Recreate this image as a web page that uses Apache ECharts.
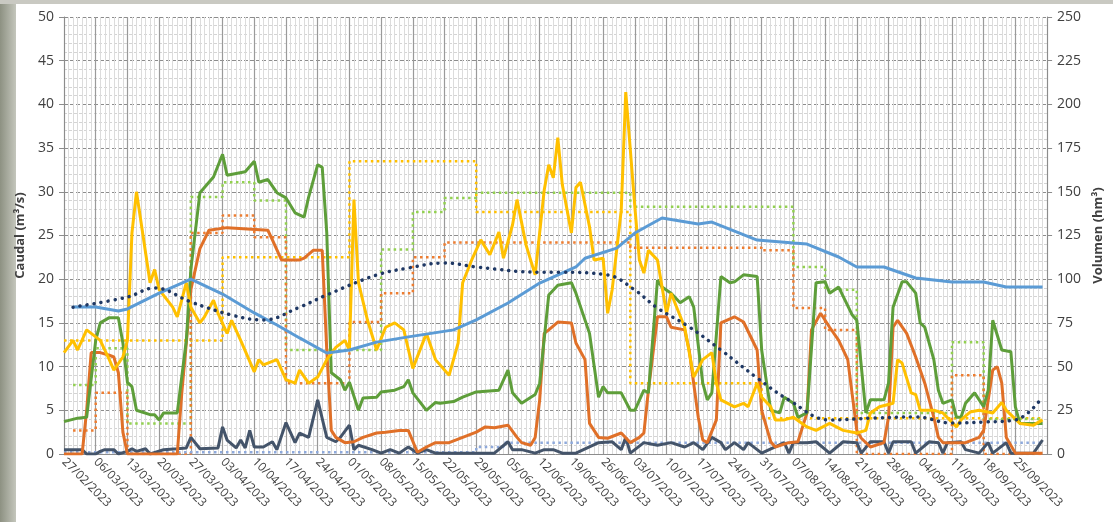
<!DOCTYPE html>
<html>
<head>
<meta charset="utf-8">
<script src="https://cdn.jsdelivr.net/npm/echarts@6/dist/echarts.min.js"></script>
<style>
html, body { margin: 0; padding: 0; background: #fff; }
#main { width: 1113px; height: 522px; }
</style>
</head>
<body>
<div id="main"></div>
<script>
// x = días desde el 27/02/2023, y = valor
var startDate = [2023, 1, 27];

var caudalAmarillo = [[0,11.6],[2,13.0],[3,11.9],[5,14.2],[6,13.8],[8,13.0],[10,10.8],[11,9.6],[13,11.1],[14,13.0],[15,25.3],[16,30.0],[19,19.6],[20,21.1],[21,18.8],[24,16.8],[25,15.7],[27,19.6],[28,16.8],[30,15.0],[31,15.7],[33,17.6],[34,16.1],[36,13.8],[37,15.3],[39,13.0],[42,9.4],[43,10.8],[44,10.2],[47,10.8],[49,8.5],[51,8.1],[52,9.6],[54,8.1],[56,8.8],[58,10.8],[60,12.2],[62,13.0],[63,11.9],[64,29.1],[65,19.6],[67,15.3],[69,11.9],[71,14.5],[73,15.0],[75,14.2],[77,9.8],[80,13.8],[82,10.8],[85,9.0],[87,12.7],[88,19.6],[90,22.2],[92,24.5],[94,22.8],[96,25.4],[97,22.4],[99,26.2],[100,29.1],[102,23.9],[104,20.5],[106,30.2],[107,33.1],[108,31.6],[109,36.2],[110,30.8],[112,25.3],[113,30.5],[114,31.1],[116,26.0],[117,22.2],[119,22.4],[120,16.1],[121,18.8],[123,27.9],[124,41.4],[126,28.3],[127,22.2],[128,20.7],[129,23.3],[131,22.2],[133,16.1],[134,18.4],[137,14.5],[139,8.8],[141,10.8],[143,11.6],[144,8.1],[145,6.2],[148,5.4],[150,5.8],[151,5.4],[153,8.1],[154,6.5],[156,5.4],[157,3.9],[159,3.9],[161,4.2],[164,3.1],[166,2.7],[169,3.5],[172,2.7],[175,2.4],[177,2.7],[178,4.7],[180,5.4],[183,5.8],[184,10.8],[185,10.4],[187,7.0],[188,6.8],[189,5.0],[192,5.0],[194,4.7],[197,3.1],[198,3.9],[200,4.8],[202,5.0],[205,4.7],[207,5.9],[208,5.0],[211,3.5],[214,3.3],[216,3.9]];

var caudalVerde = [[0,3.7],[3,4.1],[5,4.2],[7,13.0],[8,15.0],[10,15.6],[12,15.6],[13,12.7],[14,8.2],[15,7.7],[16,5.0],[19,4.5],[20,4.5],[21,3.9],[22,4.7],[25,4.7],[27,13.0],[28,21.1],[30,29.9],[33,31.7],[35,34.3],[36,31.9],[40,32.3],[42,33.5],[43,31.1],[45,31.4],[47,29.9],[49,29.3],[51,27.6],[53,27.1],[54,29.4],[56,33.1],[57,32.8],[58,25.3],[59,9.3],[61,8.5],[62,7.3],[63,8.2],[65,5.0],[66,6.4],[69,6.5],[70,7.1],[73,7.3],[75,7.7],[76,8.5],[77,7.0],[80,5.0],[82,5.9],[83,5.8],[86,6.0],[88,6.5],[91,7.1],[96,7.3],[98,9.6],[99,7.0],[101,5.8],[104,6.8],[105,8.1],[107,18.2],[109,19.3],[112,19.6],[113,18.4],[116,13.8],[118,6.5],[119,7.7],[120,7.0],[123,7.0],[125,5.0],[126,5.0],[128,7.3],[129,7.0],[131,19.9],[132,19.1],[134,18.4],[136,17.3],[138,18.0],[139,16.8],[141,8.1],[142,6.2],[143,7.0],[145,20.3],[147,19.6],[148,19.7],[150,20.5],[153,20.3],[154,11.9],[156,5.0],[158,4.7],[159,6.5],[161,5.8],[162,4.2],[164,4.7],[166,19.6],[168,19.7],[169,18.4],[171,19.1],[174,15.9],[175,15.3],[177,4.7],[178,6.2],[181,6.2],[182,8.1],[183,16.8],[185,19.7],[186,19.7],[188,18.4],[189,15.0],[190,14.5],[192,10.8],[193,7.3],[194,5.8],[196,6.2],[197,4.2],[198,4.2],[199,5.8],[201,7.0],[203,5.4],[204,7.3],[205,15.3],[207,11.9],[209,11.7],[210,5.4],[211,3.5],[216,3.5]];

var caudalNaranja = [[0,0],[4,0],[5,5],[6,11.6],[8,11.6],[10,11.3],[11,11.1],[12,9.3],[13,2.5],[14,0],[25,0],[26,7.0],[27,12.7],[28,18.8],[30,23.5],[32,25.6],[36,25.9],[45,25.6],[46,24.5],[48,22.2],[52,22.2],[53,22.4],[55,23.3],[57,23.3],[58,11.9],[59,2.7],[60,1.9],[62,1.3],[64,1.4],[66,1.9],[69,2.4],[71,2.5],[74,2.7],[76,2.7],[78,0.2],[80,0.8],[82,1.3],[85,1.3],[88,1.9],[91,2.5],[93,3.1],[95,3.0],[98,3.3],[100,1.9],[101,1.3],[103,1.0],[104,1.9],[105,6.2],[106,13.8],[107,14.2],[109,15.1],[112,15.0],[113,12.7],[115,10.8],[116,3.5],[118,1.9],[120,1.8],[123,2.4],[125,1.3],[127,1.9],[128,2.4],[129,7.3],[131,15.7],[133,15.7],[134,14.5],[137,14.2],[138,11.9],[140,4.2],[141,1.6],[142,1.3],[144,3.9],[145,15.0],[148,15.7],[150,15.1],[153,11.9],[154,5.0],[156,1.4],[157,0.8],[160,1.3],[162,1.4],[164,4.7],[165,14.2],[167,16.1],[169,14.5],[171,13.0],[173,10.8],[175,2.7],[176,1.8],[178,0.8],[181,1.3],[182,4.2],[183,14.5],[184,15.3],[186,13.8],[188,11.1],[190,8.1],[192,4.2],[193,1.9],[194,1.3],[199,1.3],[202,1.9],[203,2.7],[205,9.6],[206,10.0],[207,8.1],[208,1.9],[210,0.1],[216,0.1]];

var caudalGris = [[0,0.5],[4,0.5],[5,0],[7,0],[8,0.3],[9,0.5],[11,0.5],[12,0],[14,0.3],[15,0.6],[16,0.3],[18,0.6],[19,0],[22,0.5],[25,0.6],[27,0.7],[28,1.9],[30,0.6],[34,0.7],[35,3.1],[36,1.6],[38,0.7],[39,1.6],[40,0.7],[41,2.7],[42,0.8],[44,0.8],[46,1.4],[47,0.5],[49,3.6],[51,1.3],[52,2.4],[54,1.9],[56,6.2],[58,1.9],[60,1.4],[61,1.9],[63,3.3],[64,0.5],[65,1.0],[68,0.5],[70,0.1],[72,0.5],[74,0.1],[76,0.8],[78,0.1],[80,0.5],[82,0.1],[95,0.1],[98,1.4],[99,0.5],[101,0.5],[104,0.1],[106,0.5],[108,0.5],[110,0.1],[113,0.1],[118,1.3],[121,1.4],[123,0.5],[124,1.9],[125,0.1],[128,1.3],[131,1.0],[134,1.3],[137,0.8],[139,1.3],[141,0.5],[143,1.9],[145,1.3],[146,0.5],[148,1.3],[150,0.5],[151,1.3],[153,0.5],[154,0.1],[159,1.3],[160,0.1],[161,1.3],[164,1.3],[166,1.4],[169,0.1],[172,1.4],[175,1.3],[176,0.1],[178,1.4],[181,1.4],[182,0.1],[183,1.4],[187,1.4],[188,0.1],[191,1.4],[193,1.3],[194,0.1],[195,1.3],[198,1.4],[199,0.5],[202,0.1],[204,1.3],[205,0.1],[208,1.3],[209,0.1],[214,0.1],[216,1.6]];

// escalones (punteados)
var medAmarillo = [[0,13.0],[35,22.5],[63,33.5],[91,27.7],[125,8.1],[154,4.1],[216,4.1]];
var medVerde = [[2,7.9],[7,12.1],[14,3.5],[28,29.4],[35,31.1],[42,29.0],[49,11.9],[70,23.4],[77,27.7],[84,29.3],[91,29.9],[125,28.3],[161,21.4],[168,18.8],[175,4.7],[196,12.8],[203,4.0],[216,4.0]];
var medNaranja = [[2,2.7],[7,7.0],[14,0],[28,25.3],[35,27.3],[42,24.8],[49,8.1],[63,15.1],[70,18.4],[77,22.5],[84,24.2],[125,23.6],[154,23.3],[161,16.7],[168,14.2],[175,0],[196,9.0],[203,0],[216,0]];
var medGris = [[0,0.2],[91,0.8],[97,1.3],[216,1.3]];

// volumen (eje derecho)
var volumen = [[2,84.1],[7,84.1],[12,81.8],[14,83],[21,92],[28,100],[35,91.5],[42,80.7],[47,73.8],[52,66.4],[58,57.8],[63,59.5],[69,64],[76,67],[86,71],[91,76.7],[98,86.4],[105,97.8],[113,107],[115,112],[122,117.8],[126,126.4],[132,135],[140,131.6],[143,132.7],[153,122.4],[161,120.7],[164,120.1],[171,112.7],[175,107],[181,107],[188,100.7],[196,98.4],[203,98.4],[208,95.5],[216,95.5]];
var volumenTend = [[2,84],[14,89.8],[20,95],[28,87],[37,79.5],[44,76.7],[52,84],[58,91],[69,102.4],[76,106.4],[84,109.3],[91,107],[105,104],[109,104],[120,102.4],[126,93.8],[131,83.5],[138,72.7],[145,59.5],[153,43.5],[160,30.9],[169,19.5],[179,20.6],[188,21.2],[196,17.7],[203,18.3],[210,19.5],[216,32.6]];

function fecha(d) {
  var t = new Date(startDate[0], startDate[1], startDate[2] + d);
  var dd = ('0' + t.getDate()).slice(-2);
  var mm = ('0' + (t.getMonth() + 1)).slice(-2);
  return dd + '/' + mm + '/' + t.getFullYear();
}

var chartDom = document.getElementById('main');
var myChart = echarts.init(chartDom);
var option;

function solid(name, data, color, axis, z) {
  return {
    name: name, type: 'line', data: data, yAxisIndex: axis || 0,
    showSymbol: false, z: z || 3,
    lineStyle: { color: color, width: 3 }
  };
}
function dots(name, data, color) {
  return {
    name: name, type: 'line', data: data, step: 'end',
    showSymbol: false, z: 2,
    lineStyle: { color: color, width: 2.5, type: [2.5, 3.5] }
  };
}

option = {
  backgroundColor: '#fff',
  animation: false,
  graphic: [
    { type: 'rect', left: 0, top: 0, shape: { width: 16, height: 522 },
      style: { fill: new echarts.graphic.LinearGradient(0, 0, 1, 0, [{ offset: 0, color: '#8d9182' }, { offset: 1, color: '#c4c6bc' }]) }, z: -1 },
    { type: 'rect', left: 0, top: 0, shape: { width: 1113, height: 4 },
      style: { fill: '#c9c9c2' }, z: -1 }
  ],
  grid: { left: 64, right: 58, top: 17, bottom: 68 },
  xAxis: {
    type: 'value', min: 0, max: 217, interval: 7,
    axisLine: { lineStyle: { color: '#8c8c8c' } },
    axisTick: { show: false },
    axisLabel: {
      rotate: -45, color: '#404040', fontSize: 12, fontFamily: 'Open Sans', margin: 6,
      formatter: function (v) { return v >= 217 ? '' : fecha(v); }
    },
    splitLine: { show: true, lineStyle: { color: '#9a9a9a', width: 1.2 } },
    minorTick: { show: true, splitNumber: 7, length: 0 },
    minorSplitLine: { show: true, lineStyle: { color: '#dcdcdc', width: 1 } }
  },
  yAxis: [
    {
      type: 'value', min: 0, max: 50, interval: 5,
      name: 'Caudal (m³/s)', nameLocation: 'middle', nameGap: 34, nameRotate: 90,
      nameTextStyle: { color: '#404040', fontSize: 13, fontWeight: 'bold', fontFamily: 'Open Sans' },
      axisLine: { show: true, lineStyle: { color: '#8c8c8c' } },
      axisTick: { show: true, length: 5, lineStyle: { color: '#8c8c8c' } },
      axisLabel: { color: '#404040', fontSize: 14, fontFamily: 'Open Sans', margin: 10 },
      splitLine: { show: true, lineStyle: { color: '#8c8c8c', type: [4, 2] } },
      minorTick: { show: true, splitNumber: 5, length: 0 },
      minorSplitLine: { show: true, lineStyle: { color: '#d4d4d4', type: [3, 2] } }
    },
    {
      type: 'value', min: 0, max: 250, interval: 25, position: 'right',
      name: 'Volumen (hm³)', nameLocation: 'middle', nameGap: 42, nameRotate: 90,
      nameTextStyle: { color: '#404040', fontSize: 13, fontWeight: 'bold', fontFamily: 'Open Sans' },
      axisLine: { show: true, lineStyle: { color: '#8c8c8c' } },
      axisTick: { show: true, length: 5, lineStyle: { color: '#8c8c8c' } },
      axisLabel: { color: '#404040', fontSize: 14, fontFamily: 'Open Sans', margin: 10 },
      splitLine: { show: false }
    }
  ],
  series: [
    dots('Amarillo medio', medAmarillo, '#FFC000'),
    dots('Verde medio', medVerde, '#92D050'),
    dots('Naranja medio', medNaranja, '#ED7D31'),
    dots('Gris medio', medGris, '#8EA9DB'),
    solid('Gris', caudalGris, '#44546A', 0, 3),
    solid('Naranja', caudalNaranja, '#E07028', 0, 4),
    solid('Verde', caudalVerde, '#5E9E3A', 0, 5),
    solid('Amarillo', caudalAmarillo, '#FFC000', 0, 6),
    solid('Volumen', volumen, '#5B9BD5', 1, 7),
    {
      name: 'Tendencia volumen', type: 'line', data: volumenTend, yAxisIndex: 1,
      smooth: 0.4, showSymbol: false, z: 8,
      lineStyle: { color: '#1F3864', width: 3.5, type: [0.1, 7], cap: 'round' }
    }
  ]
};

option && myChart.setOption(option);
</script>
</body>
</html>
